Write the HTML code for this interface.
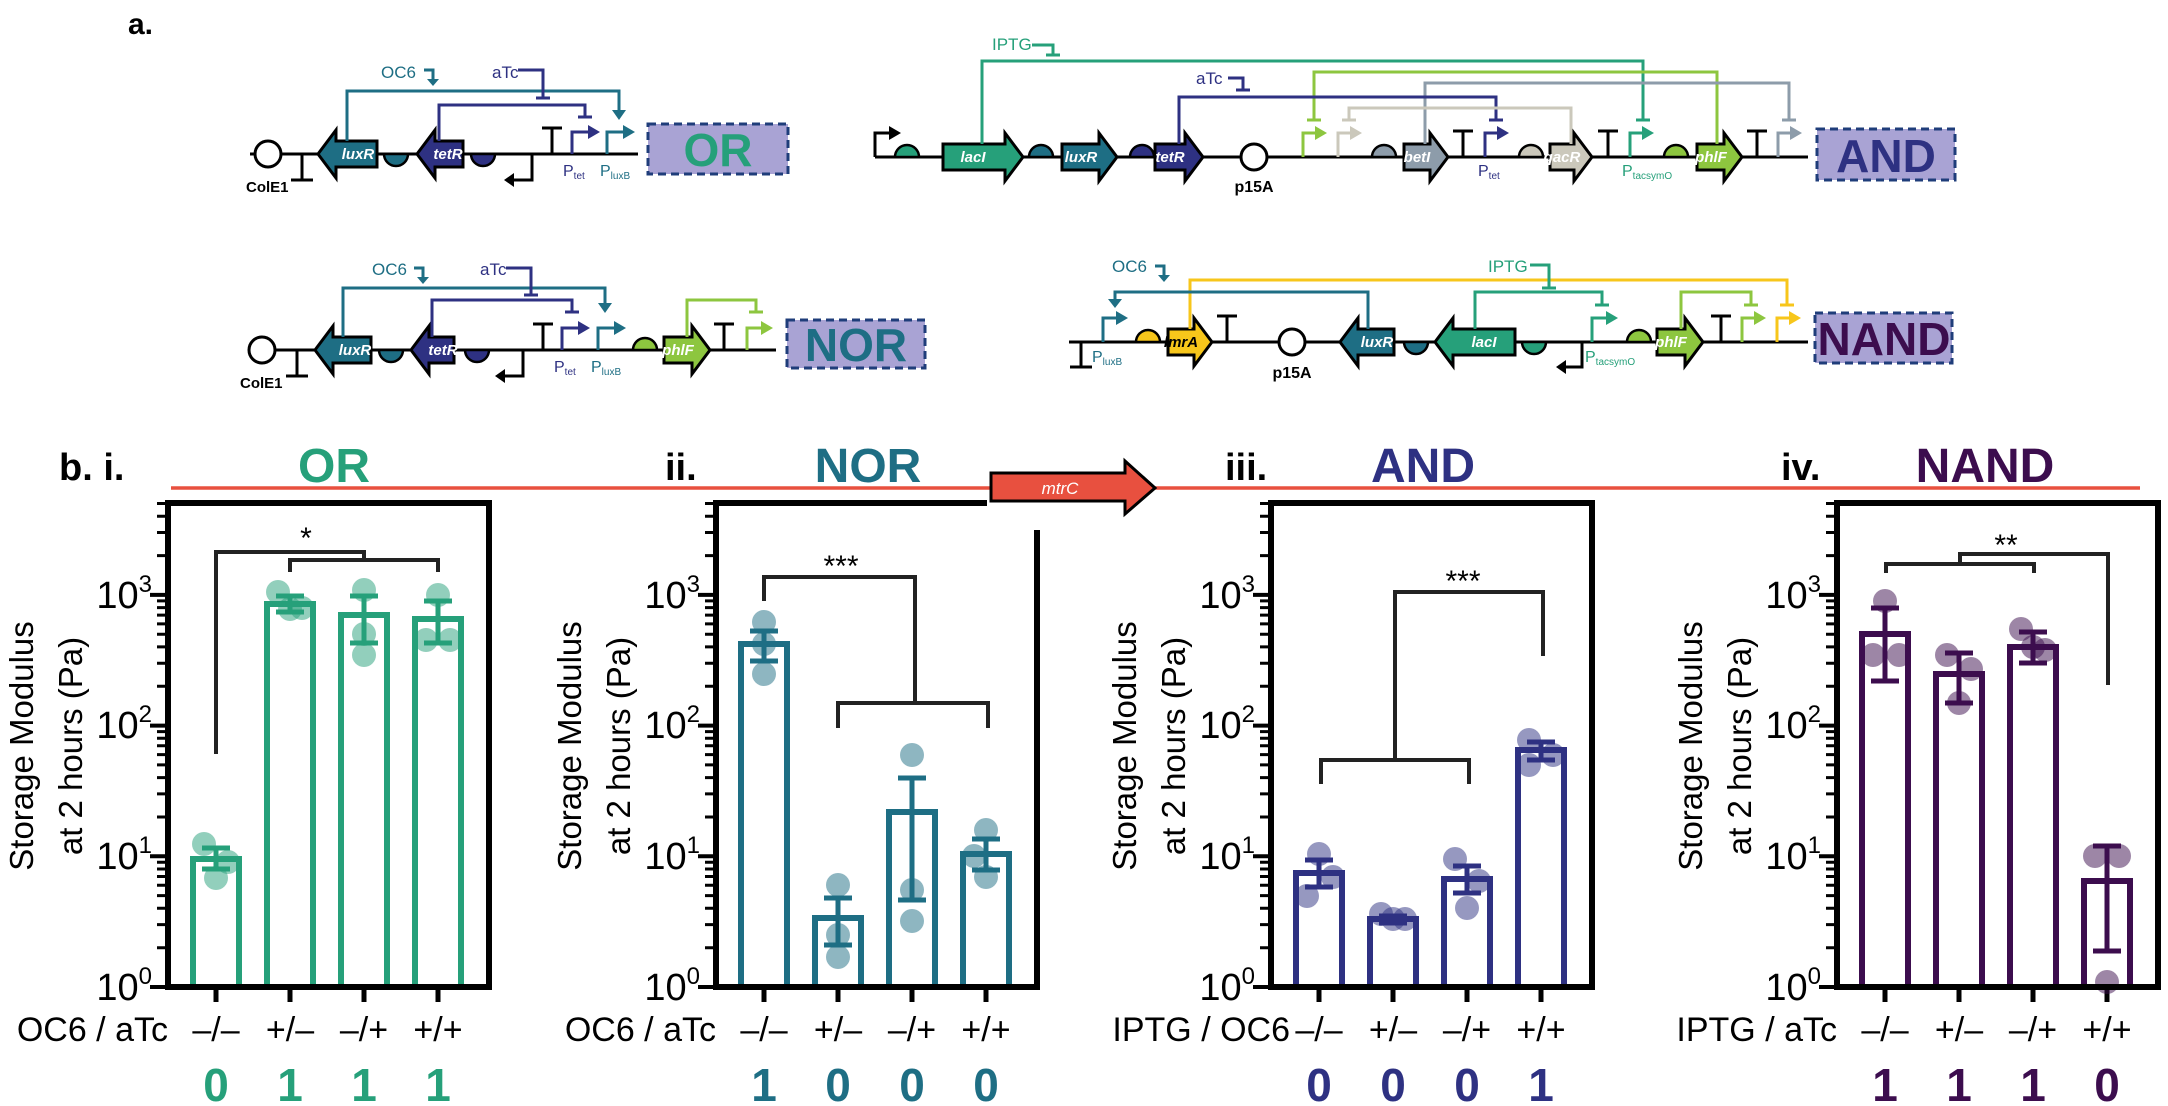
<!DOCTYPE html>
<html><head><meta charset="utf-8"><style>
html,body{margin:0;padding:0;background:#fff;}
svg{display:block;font-family:"Liberation Sans",sans-serif;}
</style></head><body>
<svg width="2168" height="1106" viewBox="0 0 2168 1106" xmlns="http://www.w3.org/2000/svg">
<defs>
<g id="ticks" stroke="#000" stroke-width="3">
<path d="M150,987H168M150,856.3H168M150,725.6H168M150,594.9H168" stroke-width="4"/>
<path d="M157,947.7H168M157,924.6H168M157,908.3H168M157,895.6H168M157,885.3H168M157,876.5H168M157,869H168M157,862.3H168
M157,817H168M157,793.9H168M157,777.6H168M157,764.9H168M157,754.6H168M157,745.8H168M157,738.3H168M157,731.6H168
M157,686.3H168M157,663.2H168M157,646.9H168M157,634.2H168M157,623.9H168M157,615.1H168M157,607.6H168M157,600.9H168
M157,555.6H168M157,532.5H168M157,516.2H168M157,503.5H168"/>
<path d="M216,987V1002M290,987V1002M364,987V1002M438,987V1002" stroke-width="5"/>
</g>
</defs>

<!-- ===== a. circuits ===== -->
<text x="128" y="34" font-size="30" font-weight="bold">a.</text>
<g stroke-linecap="butt" fill="none">
<!-- OR -->
<path d="M250,154H638" stroke="#000" stroke-width="3"/>
<circle cx="268" cy="154" r="13" fill="#fff" stroke="#000" stroke-width="3"/>
<path d="M302,154V180M291,180H313" stroke="#000" stroke-width="3"/>
<polygon points="377,141 336,141 336,130 318,154 336,178 336,167 377,167" fill="#1e6e84" stroke="#000" stroke-width="3"/>
<path d="M384,154A12,12 0 0 0 408,154Z" fill="#1e6e84" stroke="#000" stroke-width="2.5"/>
<polygon points="463,141 435,141 435,130 417,154 435,178 435,167 463,167" fill="#2e3182" stroke="#000" stroke-width="3"/>
<path d="M471,154A12,12 0 0 0 495,154Z" fill="#2e3182" stroke="#000" stroke-width="2.5"/>
<path d="M532,154V180H514" stroke="#000" stroke-width="3"/><polygon points="514,173 504,180 514,187" fill="#000"/>
<path d="M552,154V128M542,128H562" stroke="#000" stroke-width="3"/>
<path d="M572,154V132H588" stroke="#2e3182" stroke-width="3"/><polygon points="588,125 600,132 588,139" fill="#2e3182"/>
<path d="M607,154V132H623" stroke="#1e6e84" stroke-width="3"/><polygon points="623,125 635,132 623,139" fill="#1e6e84"/>
<path d="M347,141V91H619V112" stroke="#1e6e84" stroke-width="3"/><polygon points="612,110 619,120 626,110" fill="#1e6e84"/>
<path d="M439,141V105H585V117M578,117H592" stroke="#2e3182" stroke-width="3"/>
<path d="M518,70H543V98M536,98H550" stroke="#2e3182" stroke-width="3"/>
<path d="M424,70H433V80" stroke="#1e6e84" stroke-width="3"/><polygon points="427,79 433,86 439,79" fill="#1e6e84"/>
<rect x="648" y="124" width="140" height="50" fill="#a9a3d4" stroke="#1f3d7a" stroke-width="3" stroke-dasharray="8 5"/>

<!-- NOR -->
<path d="M250,350H776" stroke="#000" stroke-width="3"/>
<circle cx="262" cy="350" r="13" fill="#fff" stroke="#000" stroke-width="3"/>
<path d="M297,350V376M286,376H308" stroke="#000" stroke-width="3"/>
<polygon points="371,337 333,337 333,326 315,350 333,374 333,363 371,363" fill="#1e6e84" stroke="#000" stroke-width="3"/>
<path d="M379,350A12,12 0 0 0 403,350Z" fill="#1e6e84" stroke="#000" stroke-width="2.5"/>
<polygon points="454,337 429,337 429,326 411,350 429,374 429,363 454,363" fill="#2e3182" stroke="#000" stroke-width="3"/>
<path d="M465,350A12,12 0 0 0 489,350Z" fill="#2e3182" stroke="#000" stroke-width="2.5"/>
<path d="M523,350V376H505" stroke="#000" stroke-width="3"/><polygon points="505,369 495,376 505,383" fill="#000"/>
<path d="M543,350V324M533,324H553" stroke="#000" stroke-width="3"/>
<path d="M562,350V328H578" stroke="#2e3182" stroke-width="3"/><polygon points="578,321 590,328 578,335" fill="#2e3182"/>
<path d="M598,350V328H614" stroke="#1e6e84" stroke-width="3"/><polygon points="614,321 626,328 614,335" fill="#1e6e84"/>
<path d="M633,350A12,12 0 0 1 657,350Z" fill="#8dc63f" stroke="#000" stroke-width="2.5"/>
<polygon points="664,337 692,337 692,326 710,350 692,374 692,363 664,363" fill="#8dc63f" stroke="#000" stroke-width="3"/>
<path d="M724,350V324M714,324H734" stroke="#000" stroke-width="3"/>
<path d="M747,350V328H761" stroke="#8dc63f" stroke-width="3"/><polygon points="761,321 773,328 761,335" fill="#8dc63f"/>
<path d="M343,337V288H605V304" stroke="#1e6e84" stroke-width="3"/><polygon points="598,303 605,313 612,303" fill="#1e6e84"/>
<path d="M432,337V300H572V312M565,312H579" stroke="#2e3182" stroke-width="3"/>
<path d="M687,337V300H756V312M749,312H763" stroke="#8dc63f" stroke-width="3"/>
<path d="M506,268H531V295M524,295H538" stroke="#2e3182" stroke-width="3"/>
<path d="M414,268H423V278" stroke="#1e6e84" stroke-width="3"/><polygon points="417,277 423,284 429,277" fill="#1e6e84"/>
<rect x="787" y="320" width="138" height="48" fill="#a9a3d4" stroke="#1f3d7a" stroke-width="3" stroke-dasharray="8 5"/>

<!-- AND -->
<path d="M875,157H1808" stroke="#000" stroke-width="3"/>
<path d="M875,157V133H889" stroke="#000" stroke-width="3"/><polygon points="889,126 901,133 889,140" fill="#000"/>
<path d="M895,157A12,12 0 0 1 919,157Z" fill="#26a07a" stroke="#000" stroke-width="2.5"/>
<polygon points="943,144 1005,144 1005,133 1023,157 1005,181 1005,170 943,170" fill="#26a07a" stroke="#000" stroke-width="3"/>
<path d="M1029,157A12,12 0 0 1 1053,157Z" fill="#1e6e84" stroke="#000" stroke-width="2.5"/>
<polygon points="1062,144 1099,144 1099,133 1117,157 1099,181 1099,170 1062,170" fill="#1e6e84" stroke="#000" stroke-width="3"/>
<path d="M1130,157A12,12 0 0 1 1154,157Z" fill="#2e3182" stroke="#000" stroke-width="2.5"/>
<polygon points="1155,144 1185,144 1185,133 1203,157 1185,181 1185,170 1155,170" fill="#2e3182" stroke="#000" stroke-width="3"/>
<circle cx="1254" cy="157" r="13" fill="#fff" stroke="#000" stroke-width="3"/>
<path d="M1303,157V133H1315" stroke="#8dc63f" stroke-width="3"/><polygon points="1315,126 1327,133 1315,140" fill="#8dc63f"/>
<path d="M1338,157V133H1350" stroke="#cbc8bb" stroke-width="3"/><polygon points="1350,126 1362,133 1350,140" fill="#cbc8bb"/>
<path d="M1372,157A12,12 0 0 1 1396,157Z" fill="#8d9caa" stroke="#000" stroke-width="2.5"/>
<polygon points="1404,144 1430,144 1430,133 1448,157 1430,181 1430,170 1404,170" fill="#8d9caa" stroke="#000" stroke-width="3"/>
<path d="M1463,157V131M1453,131H1473" stroke="#000" stroke-width="3"/>
<path d="M1485,157V133H1497" stroke="#2e3182" stroke-width="3"/><polygon points="1497,126 1509,133 1497,140" fill="#2e3182"/>
<path d="M1519,157A12,12 0 0 1 1543,157Z" fill="#cbc8bb" stroke="#000" stroke-width="2.5"/>
<polygon points="1550,144 1574,144 1574,133 1592,157 1574,181 1574,170 1550,170" fill="#cbc8bb" stroke="#000" stroke-width="3"/>
<path d="M1608,157V131M1598,131H1618" stroke="#000" stroke-width="3"/>
<path d="M1630,157V133H1642" stroke="#26a07a" stroke-width="3"/><polygon points="1642,126 1654,133 1642,140" fill="#26a07a"/>
<path d="M1664,157A12,12 0 0 1 1688,157Z" fill="#8dc63f" stroke="#000" stroke-width="2.5"/>
<polygon points="1697,144 1724,144 1724,133 1742,157 1724,181 1724,170 1697,170" fill="#8dc63f" stroke="#000" stroke-width="3"/>
<path d="M1757,157V131M1747,131H1767" stroke="#000" stroke-width="3"/>
<path d="M1778,157V133H1790" stroke="#8d9caa" stroke-width="3"/><polygon points="1790,126 1802,133 1790,140" fill="#8d9caa"/>
<path d="M982,144V61H1643V120M1636,120H1650" stroke="#26a07a" stroke-width="3"/>
<path d="M1717,144V72H1314V120M1307,120H1321" stroke="#8dc63f" stroke-width="3"/>
<path d="M1425,144V83H1789V120M1782,120H1796" stroke="#8d9caa" stroke-width="3"/>
<path d="M1179,144V97H1496V120M1489,120H1503" stroke="#2e3182" stroke-width="3"/>
<path d="M1571,144V108H1349V120M1342,120H1356" stroke="#cbc8bb" stroke-width="3"/>
<path d="M1032,45H1053V55M1046,55H1060" stroke="#26a07a" stroke-width="3"/>
<path d="M1228,78H1243V90M1236,90H1250" stroke="#2e3182" stroke-width="3"/>
<rect x="1817" y="129" width="138" height="51" fill="#a9a3d4" stroke="#1f3d7a" stroke-width="3" stroke-dasharray="8 5"/>

<!-- NAND -->
<path d="M1069,342H1808" stroke="#000" stroke-width="3"/>
<path d="M1081,342V367M1070,367H1092" stroke="#000" stroke-width="3"/>
<path d="M1103,342V318H1116" stroke="#1e6e84" stroke-width="3"/><polygon points="1116,311 1128,318 1116,325" fill="#1e6e84"/>
<path d="M1136,342A12,12 0 0 1 1160,342Z" fill="#f7c61b" stroke="#000" stroke-width="2.5"/>
<polygon points="1168,329 1194,329 1194,318 1212,342 1194,366 1194,355 1168,355" fill="#f7c61b" stroke="#000" stroke-width="3"/>
<path d="M1227,342V316M1217,316H1237" stroke="#000" stroke-width="3"/>
<circle cx="1292" cy="342" r="13" fill="#fff" stroke="#000" stroke-width="3"/>
<polygon points="1394,329 1358,329 1358,318 1340,342 1358,366 1358,355 1394,355" fill="#1e6e84" stroke="#000" stroke-width="3"/>
<path d="M1404,342A12,12 0 0 0 1428,342Z" fill="#1e6e84" stroke="#000" stroke-width="2.5"/>
<polygon points="1515,329 1453,329 1453,318 1435,342 1453,366 1453,355 1515,355" fill="#26a07a" stroke="#000" stroke-width="3"/>
<path d="M1522,342A12,12 0 0 0 1546,342Z" fill="#26a07a" stroke="#000" stroke-width="2.5"/>
<path d="M1582,342V367H1566" stroke="#000" stroke-width="3"/><polygon points="1566,360 1556,367 1566,374" fill="#000"/>
<path d="M1592,342V318H1606" stroke="#26a07a" stroke-width="3"/><polygon points="1606,311 1618,318 1606,325" fill="#26a07a"/>
<path d="M1627,342A12,12 0 0 1 1651,342Z" fill="#8dc63f" stroke="#000" stroke-width="2.5"/>
<polygon points="1657,329 1685,329 1685,318 1703,342 1685,366 1685,355 1657,355" fill="#8dc63f" stroke="#000" stroke-width="3"/>
<path d="M1721,342V316M1711,316H1731" stroke="#000" stroke-width="3"/>
<path d="M1742,342V318H1754" stroke="#8dc63f" stroke-width="3"/><polygon points="1754,311 1766,318 1754,325" fill="#8dc63f"/>
<path d="M1777,342V318H1789" stroke="#f7c61b" stroke-width="3"/><polygon points="1789,311 1801,318 1789,325" fill="#f7c61b"/>
<path d="M1190,329V280H1787V305M1780,305H1794" stroke="#f7c61b" stroke-width="3"/>
<path d="M1368,329V292H1115V300" stroke="#1e6e84" stroke-width="3"/><polygon points="1108,299 1115,308 1122,299" fill="#1e6e84"/>
<path d="M1475,329V292H1602V305M1595,305H1609" stroke="#26a07a" stroke-width="3"/>
<path d="M1681,329V292H1751V305M1744,305H1758" stroke="#8dc63f" stroke-width="3"/>
<path d="M1530,265H1549V288M1542,288H1556" stroke="#26a07a" stroke-width="3"/>
<path d="M1155,266H1164V276" stroke="#1e6e84" stroke-width="3"/><polygon points="1158,275 1164,282 1170,275" fill="#1e6e84"/>
<rect x="1815" y="313" width="137" height="50" fill="#a9a3d4" stroke="#1f3d7a" stroke-width="3" stroke-dasharray="8 5"/>
</g>

<g font-size="17">
<text x="246" y="192" font-size="15" font-weight="bold">ColE1</text>
<text x="381" y="78" fill="#1e6e84">OC6</text>
<text x="492" y="78" fill="#2e3182">aTc</text>
<text x="563" y="176" fill="#2e3182" font-size="16">P<tspan font-size="10" dy="3">tet</tspan></text>
<text x="600" y="176" fill="#1e6e84" font-size="16">P<tspan font-size="10" dy="3">luxB</tspan></text>
<text x="718" y="166" fill="#26a07a" font-size="46" font-weight="bold" text-anchor="middle">OR</text>

<text x="240" y="388" font-size="15" font-weight="bold">ColE1</text>
<text x="372" y="275" fill="#1e6e84">OC6</text>
<text x="480" y="275" fill="#2e3182">aTc</text>
<text x="554" y="372" fill="#2e3182" font-size="16">P<tspan font-size="10" dy="3">tet</tspan></text>
<text x="591" y="372" fill="#1e6e84" font-size="16">P<tspan font-size="10" dy="3">luxB</tspan></text>
<text x="856" y="361" fill="#1e6e84" font-size="46" font-weight="bold" text-anchor="middle">NOR</text>

<text x="992" y="50" fill="#26a07a">IPTG</text>
<text x="1196" y="84" fill="#2e3182">aTc</text>
<text x="1254" y="192" font-size="16" font-weight="bold" text-anchor="middle">p15A</text>
<text x="1478" y="176" fill="#2e3182" font-size="16">P<tspan font-size="10" dy="3">tet</tspan></text>
<text x="1622" y="176" fill="#26a07a" font-size="16">P<tspan font-size="10" dy="3">tacsymO</tspan></text>
<text x="1886" y="172" fill="#2e3182" font-size="46" font-weight="bold" text-anchor="middle">AND</text>

<text x="1112" y="272" fill="#1e6e84">OC6</text>
<text x="1488" y="272" fill="#26a07a">IPTG</text>
<text x="1092" y="362" fill="#1e6e84" font-size="16">P<tspan font-size="10" dy="3">luxB</tspan></text>
<text x="1292" y="378" font-size="16" font-weight="bold" text-anchor="middle">p15A</text>
<text x="1585" y="362" fill="#26a07a" font-size="16">P<tspan font-size="10" dy="3">tacsymO</tspan></text>
<text x="1884" y="355" fill="#3c0d4e" font-size="46" font-weight="bold" text-anchor="middle">NAND</text>
</g>
<g font-size="15" font-style="italic" font-weight="bold" fill="#fff" text-anchor="middle">
<text x="358" y="159">luxR</text><text x="448" y="159">tetR</text>
<text x="355" y="355">luxR</text><text x="443" y="355">tetR</text><text x="678" y="355">phlF</text>
<text x="973" y="162">lacI</text><text x="1081" y="162">luxR</text><text x="1170" y="162">tetR</text>
<text x="1417" y="162">betI</text><text x="1562" y="162">qacR</text><text x="1711" y="162">phlF</text>
<text x="1181" y="347" fill="#000">lmrA</text><text x="1377" y="347">luxR</text><text x="1484" y="347">lacI</text><text x="1671" y="347">phlF</text>
</g>

<!-- ===== b. panels ===== -->
<path d="M171,488H2140" stroke="#e8503f" stroke-width="3.5"/>
<g font-weight="bold" font-size="38">
<text x="59" y="480">b. i.</text>
<text x="334" y="482" font-size="48" fill="#26a07a" text-anchor="middle">OR</text>
<text x="665" y="480">ii.</text>
<text x="868" y="482" font-size="48" fill="#1e6e84" text-anchor="middle">NOR</text>
<text x="1225" y="480">iii.</text>
<text x="1423" y="482" font-size="48" fill="#2e3182" text-anchor="middle">AND</text>
<text x="1781" y="480">iv.</text>
<text x="1985" y="482" font-size="48" fill="#3c0d4e" text-anchor="middle">NAND</text>
</g>

<!-- Panel i -->
<g>
<use href="#ticks"/>
<g fill="#fff" stroke="#26a07a" stroke-width="6">
<rect x="193" y="859" width="46" height="128"/><rect x="267" y="604" width="46" height="383"/><rect x="341" y="615" width="46" height="372"/><rect x="415" y="619" width="46" height="368"/>
</g>
<g fill="#26a07a" fill-opacity="0.5">
<circle cx="204" cy="844" r="12"/><circle cx="228" cy="862" r="12"/><circle cx="216" cy="878" r="12"/>
<circle cx="278" cy="592" r="12"/><circle cx="302" cy="608" r="12"/><circle cx="290" cy="609" r="12"/>
<circle cx="364" cy="590" r="12"/><circle cx="364" cy="634" r="12"/><circle cx="364" cy="655" r="12"/>
<circle cx="438" cy="595" r="12"/><circle cx="426" cy="640" r="12"/><circle cx="450" cy="640" r="12"/>
</g>
<path d="M216,869V848M202,869H230M202,848H230 M290,612V596M276,612H304M276,596H304 M364,643V596M350,643H378M350,596H378 M438,643V601M424,643H452M424,601H452" stroke="#26a07a" stroke-width="5"/>
<rect x="168" y="503" width="321" height="484" fill="none" stroke="#000" stroke-width="6"/>
<path d="M216,754V552H364V560M290,572V560H438V572" fill="none" stroke="#222" stroke-width="4"/>
<text x="306" y="548" font-size="30" text-anchor="middle">*</text>
</g>

<!-- Panel ii -->
<g transform="translate(548,0)">
<use href="#ticks"/>
<g fill="#fff" stroke="#1e6e84" stroke-width="6">
<rect x="193" y="644" width="46" height="343"/><rect x="267" y="918" width="46" height="69"/><rect x="341" y="812" width="46" height="175"/><rect x="415" y="854" width="46" height="133"/>
</g>
<g fill="#1e6e84" fill-opacity="0.5">
<circle cx="216" cy="622" r="12"/><circle cx="216" cy="644" r="12"/><circle cx="216" cy="674" r="12"/>
<circle cx="290" cy="885" r="12"/><circle cx="290" cy="935" r="12"/><circle cx="290" cy="957" r="12"/>
<circle cx="364" cy="755" r="12"/><circle cx="364" cy="890" r="12"/><circle cx="364" cy="921" r="12"/>
<circle cx="438" cy="830" r="12"/><circle cx="426" cy="856" r="12"/><circle cx="438" cy="877" r="12"/>
</g>
<path d="M216,661V631M202,661H230M202,631H230 M290,945V898M276,945H304M276,898H304 M364,900V778M350,900H378M350,778H378 M438,870V839M424,870H452M424,839H452" stroke="#1e6e84" stroke-width="5"/>
<path d="M439,503H168V987H489V530" fill="none" stroke="#000" stroke-width="6"/>
<path d="M216,601V577H367V703M290,728V703H440V728" fill="none" stroke="#222" stroke-width="4"/>
<text x="293" y="576" font-size="30" text-anchor="middle">***</text>
</g>

<!-- Panel iii -->
<g transform="translate(1103,0)">
<use href="#ticks"/>
<g fill="#fff" stroke="#2e3182" stroke-width="6">
<rect x="193" y="873" width="46" height="114"/><rect x="267" y="919" width="46" height="68"/><rect x="341" y="879" width="46" height="108"/><rect x="415" y="750" width="46" height="237"/>
</g>
<g fill="#2e3182" fill-opacity="0.5">
<circle cx="216" cy="854" r="12"/><circle cx="230" cy="877" r="12"/><circle cx="204" cy="896" r="12"/>
<circle cx="278" cy="914" r="12"/><circle cx="302" cy="919" r="12"/><circle cx="290" cy="919" r="12"/>
<circle cx="352" cy="859" r="12"/><circle cx="376" cy="881" r="12"/><circle cx="364" cy="908" r="12"/>
<circle cx="426" cy="740" r="12"/><circle cx="450" cy="755" r="12"/><circle cx="426" cy="765" r="12"/>
</g>
<path d="M216,887V860M202,887H230M202,860H230 M290,923V916M276,923H304M276,916H304 M364,893V866M350,893H378M350,866H378 M438,760V742M424,760H452M424,742H452" stroke="#2e3182" stroke-width="5"/>
<rect x="168" y="503" width="321" height="484" fill="none" stroke="#000" stroke-width="6"/>
<path d="M218,784V760H366V784M292,760V592H440V656" fill="none" stroke="#222" stroke-width="4"/>
<text x="360" y="591" font-size="30" text-anchor="middle">***</text>
</g>

<!-- Panel iv -->
<g transform="translate(1669,0)">
<use href="#ticks"/>
<g fill="#fff" stroke="#3c0d4e" stroke-width="6">
<rect x="193" y="634" width="46" height="353"/><rect x="267" y="674" width="46" height="313"/><rect x="341" y="647" width="46" height="340"/><rect x="415" y="881" width="46" height="106"/>
</g>
<g fill="#3c0d4e" fill-opacity="0.5">
<circle cx="216" cy="601" r="12"/><circle cx="204" cy="655" r="12"/><circle cx="230" cy="655" r="12"/>
<circle cx="278" cy="655" r="12"/><circle cx="302" cy="669" r="12"/><circle cx="290" cy="703" r="12"/>
<circle cx="352" cy="629" r="12"/><circle cx="376" cy="650" r="12"/><circle cx="364" cy="647" r="12"/>
<circle cx="426" cy="856" r="12"/><circle cx="450" cy="856" r="12"/><circle cx="438" cy="982" r="12"/>
</g>
<path d="M216,681V608M202,681H230M202,608H230 M290,703V653M276,703H304M276,653H304 M364,663V632M350,663H378M350,632H378 M438,951V846M424,951H452M424,846H452" stroke="#3c0d4e" stroke-width="5"/>
<rect x="168" y="503" width="321" height="484" fill="none" stroke="#000" stroke-width="6"/>
<path d="M217,573V564H365V573M291,564V554H439V685" fill="none" stroke="#222" stroke-width="4"/>
<text x="337" y="555" font-size="30" text-anchor="middle">**</text>
</g>

<!-- mtrC arrow -->
<polygon points="991,473 1125,473 1125,461 1155,488 1125,514 1125,501 991,501" fill="#e8503f" stroke="#000" stroke-width="3"/>
<text x="1060" y="494" font-size="17" font-style="italic" fill="#fff" text-anchor="middle">mtrC</text>

<!-- axis text (per panel) -->
<g font-size="38">
<g id="ytxt">
<text x="152" y="1000" text-anchor="end">10<tspan font-size="24" dy="-16">0</tspan></text>
<text x="152" y="869" text-anchor="end">10<tspan font-size="24" dy="-16">1</tspan></text>
<text x="152" y="738" text-anchor="end">10<tspan font-size="24" dy="-16">2</tspan></text>
<text x="152" y="608" text-anchor="end">10<tspan font-size="24" dy="-16">3</tspan></text>
<text transform="translate(33,746) rotate(-90)" font-size="33" text-anchor="middle">Storage Modulus</text>
<text transform="translate(82,746) rotate(-90)" font-size="33" text-anchor="middle">at 2 hours (Pa)</text>
</g>
<g transform="translate(548,0)">
<text x="152" y="1000" text-anchor="end">10<tspan font-size="24" dy="-16">0</tspan></text>
<text x="152" y="869" text-anchor="end">10<tspan font-size="24" dy="-16">1</tspan></text>
<text x="152" y="738" text-anchor="end">10<tspan font-size="24" dy="-16">2</tspan></text>
<text x="152" y="608" text-anchor="end">10<tspan font-size="24" dy="-16">3</tspan></text>
<text transform="translate(33,746) rotate(-90)" font-size="33" text-anchor="middle">Storage Modulus</text>
<text transform="translate(82,746) rotate(-90)" font-size="33" text-anchor="middle">at 2 hours (Pa)</text>
</g>
<g transform="translate(1103,0)">
<text x="152" y="1000" text-anchor="end">10<tspan font-size="24" dy="-16">0</tspan></text>
<text x="152" y="869" text-anchor="end">10<tspan font-size="24" dy="-16">1</tspan></text>
<text x="152" y="738" text-anchor="end">10<tspan font-size="24" dy="-16">2</tspan></text>
<text x="152" y="608" text-anchor="end">10<tspan font-size="24" dy="-16">3</tspan></text>
<text transform="translate(33,746) rotate(-90)" font-size="33" text-anchor="middle">Storage Modulus</text>
<text transform="translate(82,746) rotate(-90)" font-size="33" text-anchor="middle">at 2 hours (Pa)</text>
</g>
<g transform="translate(1669,0)">
<text x="152" y="1000" text-anchor="end">10<tspan font-size="24" dy="-16">0</tspan></text>
<text x="152" y="869" text-anchor="end">10<tspan font-size="24" dy="-16">1</tspan></text>
<text x="152" y="738" text-anchor="end">10<tspan font-size="24" dy="-16">2</tspan></text>
<text x="152" y="608" text-anchor="end">10<tspan font-size="24" dy="-16">3</tspan></text>
<text transform="translate(33,746) rotate(-90)" font-size="33" text-anchor="middle">Storage Modulus</text>
<text transform="translate(82,746) rotate(-90)" font-size="33" text-anchor="middle">at 2 hours (Pa)</text>
</g>
</g>

<!-- category labels -->
<g font-size="34" text-anchor="middle">
<text x="168" y="1041" text-anchor="end">OC6 / aTc</text>
<text x="216" y="1041">–/–</text><text x="290" y="1041">+/–</text><text x="364" y="1041">–/+</text><text x="438" y="1041">+/+</text>
<text x="716" y="1041" text-anchor="end">OC6 / aTc</text>
<text x="764" y="1041">–/–</text><text x="838" y="1041">+/–</text><text x="912" y="1041">–/+</text><text x="986" y="1041">+/+</text>
<text x="1290" y="1041" text-anchor="end">IPTG / OC6</text>
<text x="1319" y="1041">–/–</text><text x="1393" y="1041">+/–</text><text x="1467" y="1041">–/+</text><text x="1541" y="1041">+/+</text>
<text x="1837" y="1041" text-anchor="end">IPTG / aTc</text>
<text x="1885" y="1041">–/–</text><text x="1959" y="1041">+/–</text><text x="2033" y="1041">–/+</text><text x="2107" y="1041">+/+</text>
</g>
<g font-size="46" font-weight="bold" text-anchor="middle">
<g fill="#26a07a"><text x="216" y="1101">0</text><text x="290" y="1101">1</text><text x="364" y="1101">1</text><text x="438" y="1101">1</text></g>
<g fill="#1e6e84"><text x="764" y="1101">1</text><text x="838" y="1101">0</text><text x="912" y="1101">0</text><text x="986" y="1101">0</text></g>
<g fill="#2e3182"><text x="1319" y="1101">0</text><text x="1393" y="1101">0</text><text x="1467" y="1101">0</text><text x="1541" y="1101">1</text></g>
<g fill="#3c0d4e"><text x="1885" y="1101">1</text><text x="1959" y="1101">1</text><text x="2033" y="1101">1</text><text x="2107" y="1101">0</text></g>
</g>
</svg>
</body></html>
